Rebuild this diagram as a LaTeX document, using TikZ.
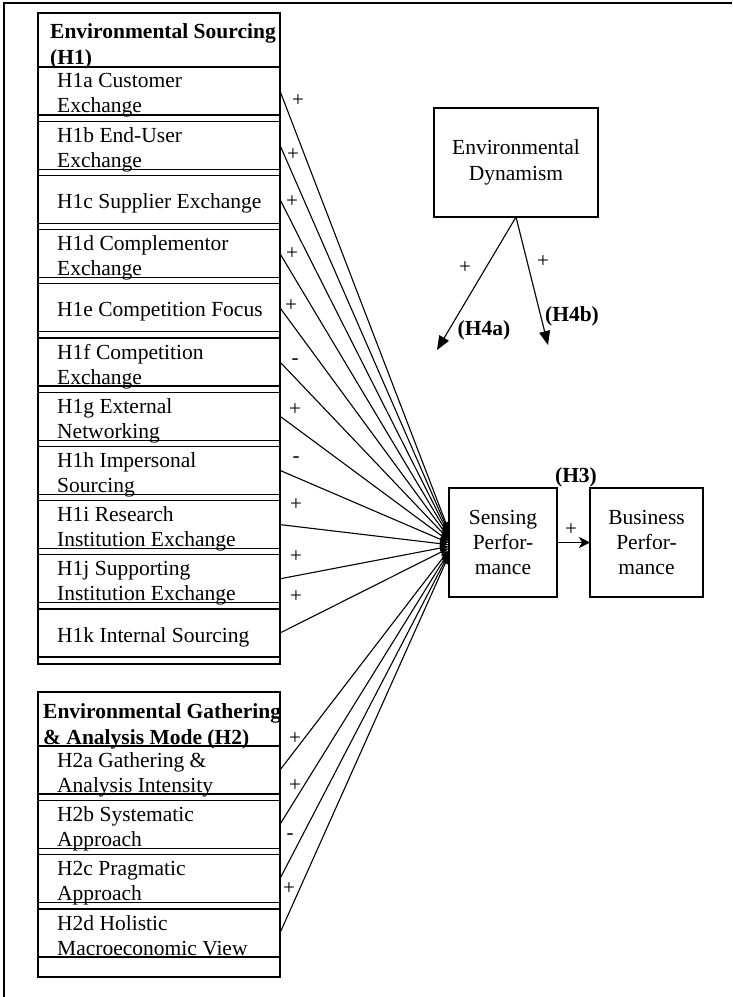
\documentclass[tikz,border=0pt]{standalone}
\usepackage{fontspec}
\setmainfont{Liberation Serif}
\usetikzlibrary{arrows.meta,calc}

\newcommand{\rowfont}{\fontsize{21.5}{25}\selectfont}
\newcommand{\labfont}{\fontsize{21}{22}\selectfont}

\tikzset{
  groupbox/.style={draw, line width=1.8pt, minimum width=242pt, inner sep=0pt, outer sep=0pt, anchor=north west},
  rowbox/.style={draw, line width=1.3pt, minimum width=242pt, minimum height=48pt, inner sep=0pt, outer sep=0pt, anchor=north west},
  rowtext/.style={anchor=north west, inner sep=0pt, align=left, font=\rowfont},
  headtext/.style={anchor=north west, inner sep=0pt, align=left, font=\fontsize{21.5}{26}\selectfont\bfseries},
  sign/.style={inner sep=0pt, font=\labfont},
  hyp/.style={inner sep=0pt, font=\rowfont\bfseries},
  mainbox/.style={draw, line width=1.6pt, inner sep=0pt, outer sep=0pt, align=center, font=\fontsize{21.5}{25}\selectfont},
  conn/.style={line width=1.1pt, -{Triangle[length=9pt,width=6pt]}},
  modarrow/.style={line width=1.1pt, -{Triangle[length=14pt,width=11pt]}},
  edge/.style={line width=2.6pt},
}

\begin{document}
\begin{tikzpicture}[x=1pt, y=-1pt]
\useasboundingbox (0,0) rectangle (732,997);

% frame
\draw[line width=2pt] (4,997) -- (4,3) -- (732,3);

% ---- Environmental sourcing block
\node[groupbox, minimum height=651pt] (g1) at (38,13) {};
\node[headtext] (g1h) at (50,23) {Environmental Sourcing\\(H1)};

\node[rowbox] (r1a) at (38,67.0) {};
\node[rowbox] (r1b) at (38,121.2) {};
\node[rowbox] (r1c) at (38,175.4) {};
\node[rowbox] (r1d) at (38,229.6) {};
\node[rowbox] (r1e) at (38,283.8) {};
\node[rowbox] (r1f) at (38,338.0) {};
\node[rowbox] (r1g) at (38,392.2) {};
\node[rowbox] (r1h) at (38,446.4) {};
\node[rowbox] (r1i) at (38,500.6) {};
\node[rowbox] (r1j) at (38,554.8) {};
\node[rowbox] (r1k) at (38,609.0) {};

\node[rowtext] (t1a) at ([shift={(19,6)}]r1a.north west) {H1a Customer\\Exchange};
\node[rowtext] (t1b) at ([shift={(19,6)}]r1b.north west) {H1b End-User\\Exchange};
\node[rowtext] (t1c) at ([shift={(19,18)}]r1c.north west) {H1c Supplier Exchange};
\node[rowtext] (t1d) at ([shift={(19,6)}]r1d.north west) {H1d Complementor\\Exchange};
\node[rowtext] (t1e) at ([shift={(19,18)}]r1e.north west) {H1e Competition Focus};
\node[rowtext] (t1f) at ([shift={(19,6)}]r1f.north west) {H1f Competition\\Exchange};
\node[rowtext] (t1g) at ([shift={(19,6)}]r1g.north west) {H1g External\\Networking};
\node[rowtext] (t1h) at ([shift={(19,6)}]r1h.north west) {H1h Impersonal\\Sourcing};
\node[rowtext] (t1i) at ([shift={(19,6)}]r1i.north west) {H1i Research\\Institution Exchange};
\node[rowtext] (t1j) at ([shift={(19,6)}]r1j.north west) {H1j Supporting\\Institution Exchange};
\node[rowtext] (t1k) at ([shift={(19,18)}]r1k.north west) {H1k Internal Sourcing};

% ---- Environmental gathering block
\node[groupbox, minimum height=285pt] (g2) at (38,692) {};
\node[headtext] (g2h) at (43,703) {Environmental Gathering\\\& Analysis Mode (H2)};

\node[rowbox] (r2a) at (38,746.0) {};
\node[rowbox] (r2b) at (38,800.3) {};
\node[rowbox] (r2c) at (38,854.6) {};
\node[rowbox] (r2d) at (38,908.9) {};

\node[rowtext] (t2a) at ([shift={(19,6)}]r2a.north west) {H2a Gathering \&\\Analysis Intensity};
\node[rowtext] (t2b) at ([shift={(19,6)}]r2b.north west) {H2b Systematic\\Approach};
\node[rowtext] (t2c) at ([shift={(19,6)}]r2c.north west) {H2c Pragmatic\\Approach};
\node[rowtext] (t2d) at ([shift={(19,6)}]r2d.north west) {H2d Holistic\\Macroeconomic View};

% heavier right edges
\foreach \r in {r1a,r1b,r1h,r2a,r2b,r2c,r2d}
  \draw[edge] (\r.north east) -- (\r.south east);

% ---- outcome boxes
\node[mainbox, minimum width=164pt, minimum height=109pt, font=\fontsize{21.5}{26}\selectfont] (dyn) at (516,162.5) {Environmental\\Dynamism};
\node[mainbox, minimum width=108pt, minimum height=109pt] (sens) at (503,542.5) {Sensing\\Perfor-\\mance};
\node[mainbox, minimum width=113pt, minimum height=109pt] (bus) at (646.5,542.5) {Business\\Perfor-\\mance};

% ---- paths into sensing performance
\draw[conn] (r1a.east) -- ([yshift=11.5pt]sens.west);
\draw[conn] (r1b.east) -- ([yshift=9.8pt]sens.west);
\draw[conn] (r1c.east) -- ([yshift=8.1pt]sens.west);
\draw[conn] (r1d.east) -- ([yshift=6.4pt]sens.west);
\draw[conn] (r1e.east) -- ([yshift=4.6pt]sens.west);
\draw[conn] (r1f.east) -- ([yshift=2.9pt]sens.west);
\draw[conn] (r1g.east) -- ([yshift=1.2pt]sens.west);
\draw[conn] (r1h.east) -- ([yshift=-0.5pt]sens.west);
\draw[conn] (r1i.east) -- ([yshift=-2.2pt]sens.west);
\draw[conn] (r1j.east) -- ([yshift=-3.9pt]sens.west);
\draw[conn] (r1k.east) -- ([yshift=-5.6pt]sens.west);
\draw[conn] (r2a.east) -- ([yshift=-7.4pt]sens.west);
\draw[conn] (r2b.east) -- ([yshift=-9.1pt]sens.west);
\draw[conn] (r2c.east) -- ([yshift=-10.8pt]sens.west);
\draw[conn] (r2d.east) -- ([yshift=-12.5pt]sens.west);

% signs of the paths
\node[sign] (s1a) at (298,101) {+};
\node[sign] (s1b) at (293,155) {+};
\node[sign] (s1c) at (292,202) {+};
\node[sign] (s1d) at (292,254) {+};
\node[sign] (s1e) at (291,306) {+};
\node[sign] (s1f) at (295,362) {-};
\node[sign] (s1g) at (295,410) {+};
\node[sign] (s1h) at (296,460) {-};
\node[sign] (s1i) at (296,505) {+};
\node[sign] (s1j) at (296,557) {+};
\node[sign] (s1k) at (296,597) {+};
\node[sign] (s2a) at (295,739) {+};
\node[sign] (s2b) at (295,786) {+};
\node[sign] (s2c) at (290,837) {-};
\node[sign] (s2d) at (289,889) {+};

% ---- H3
\draw[line width=1.3pt, -{Stealth[length=11pt,width=11pt,inset=3pt]}] (sens.east) -- (bus.west);
\node[sign] (s3) at (571,530) {+};
\node[hyp] (h3) at (576,477) {(H3)};

% ---- H4 moderation
\coordinate (h4atip) at (437,350);
\coordinate (h4btip) at (548,345);
\draw[modarrow] (dyn.south) -- (h4atip);
\draw[modarrow] (dyn.south) -- (h4btip);
\node[sign] (s4a) at (465,268) {+};
\node[sign] (s4b) at (543,262) {+};
\node[hyp] (h4a) at (484,330) {(H4a)};
\node[hyp] (h4b) at (572,316) {(H4b)};
\end{tikzpicture}
\end{document}
